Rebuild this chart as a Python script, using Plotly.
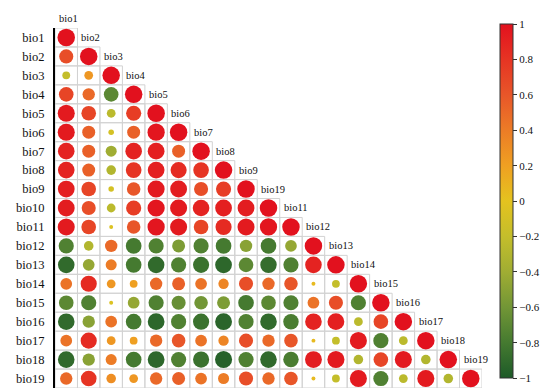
import numpy as np
import plotly.graph_objects as go

row_labels = [f"bio{i}" for i in range(1, 20)]
col_labels = ["bio1", "bio2", "bio3", "bio4", "bio5", "bio6", "bio7", "bio8", "bio9",
              "bio19", "bio11", "bio12", "bio13", "bio14", "bio15", "bio16", "bio17",
              "bio18", "bio19"]

# lower-triangle correlations (row i, columns 1..i-1); diagonal = 1
r2 = [0.65]
r3 = [-0.2, 0.25]
r4 = [0.7, 0.5, -0.7]
r5 = [0.95, 0.7, -0.25, 0.75]
r6 = [0.95, 0.55, -0.1, 0.55, 0.97]
r7 = [0.9, 0.55, -0.4, 0.9, 0.92, 0.55]
r8 = [0.9, 0.55, -0.3, 0.8, 0.92, 0.85, 0.8]
r9 = [0.92, 0.7, -0.1, 0.6, 0.95, 0.93, 0.65, 0.75]
r10 = [0.93, 0.65, -0.25, 0.75, 0.97, 0.95, 0.9, 0.92, 0.93]
r11 = [0.95, 0.7, -0.05, 0.6, 0.97, 0.95, 0.7, 0.85, 0.95, 0.97]
r12 = [-0.75, -0.3, 0.5, -0.8, -0.75, -0.55, -0.75, -0.8, -0.5, -0.8, -0.45]
r13 = [-0.9, -0.45, 0.4, -0.8, -0.9, -0.75, -0.85, -0.92, -0.7, -0.88, -0.75, 0.9]
r14 = [0.45, 0.85, 0.25, 0.2, 0.5, 0.55, 0.45, 0.35, 0.65, 0.5, 0.6, 0.05, -0.2]
r15 = [-0.7, -0.75, -0.05, -0.45, -0.75, -0.65, -0.6, -0.55, -0.8, -0.7, -0.75, 0.45, 0.65, -0.75]
r16 = [-0.9, -0.5, 0.45, -0.8, -0.92, -0.75, -0.85, -0.93, -0.75, -0.9, -0.78, 0.9, 0.92, -0.25, 0.7]
r17 = [0.45, 0.85, 0.25, 0.2, 0.5, 0.6, 0.45, 0.35, 0.65, 0.5, 0.6, 0.05, -0.2, 0.95, -0.75, -0.25]
r18 = [-0.9, -0.5, 0.4, -0.8, -0.92, -0.75, -0.85, -0.95, -0.75, -0.9, -0.78, 0.93, 0.95, -0.3, 0.7, 0.95, -0.3]
r19 = [0.5, 0.8, 0.3, 0.25, 0.5, 0.55, 0.45, 0.4, 0.65, 0.5, 0.6, 0.05, -0.2, 0.95, -0.75, -0.25, 0.95, -0.3]

lower_rows = [[], r2, r3, r4, r5, r6, r7, r8, r9, r10, r11, r12, r13, r14, r15,
              r16, r17, r18, r19]

xs, ys, vals = [], [], []
for i, row in enumerate(lower_rows, start=1):
    full = list(row) + [1.0]
    for j, v in enumerate(full, start=1):
        xs.append(j)
        ys.append(i)
        vals.append(v)
vals = np.array(vals)

colorscale = [
    [0.0, "#1D5A28"],
    [0.1, "#457A30"],
    [0.2, "#729636"],
    [0.3, "#A0AD33"],
    [0.4, "#C4BE2B"],
    [0.5, "#E4C31F"],
    [0.6, "#EFA022"],
    [0.7, "#EC7C26"],
    [0.8, "#E85629"],
    [0.9, "#E63423"],
    [1.0, "#E2111E"],
]

serif = "Liberation Serif, Times New Roman, serif"
max_d = 17.5

fig = go.Figure()
fig.add_trace(go.Scatter(
    x=xs, y=ys, mode="markers",
    marker=dict(
        size=max_d * np.sqrt(np.abs(vals)),
        color=vals, cmin=-1, cmax=1, colorscale=colorscale, opacity=1,
        line=dict(width=0),
        colorbar=dict(
            x=1.018, xanchor="left", y=0.519, yanchor="middle",
            thickness=13, len=374, lenmode="pixels", ypad=10,
            outlinecolor="#333333", outlinewidth=1,
            tickmode="linear", tick0=-1, dtick=0.2,
            ticks="outside", ticklen=4, tickcolor="#333333",
            tickfont=dict(family=serif, size=11, color="#111111"),
        ),
    ),
    hoverinfo="skip", showlegend=False, cliponaxis=False,
))

n = len(row_labels)
shapes = []
for i in range(1, n + 1):
    for j in range(1, i + 1):
        shapes.append(dict(type="rect", xref="x", yref="y",
                           x0=j - 0.5, x1=j + 0.5, y0=i - 0.5, y1=i + 0.5,
                           line=dict(color="#D2D2D2", width=1), layer="below"))

cell_h = 360 / n
annotations = []
for j, lab in enumerate(col_labels, start=1):
    annotations.append(dict(x=j - 0.5, y=j - 0.5, xref="x", yref="y", text=lab,
                            showarrow=False, xanchor="left", yanchor="middle",
                            xshift=2, yshift=cell_h / 2,
                            font=dict(family=serif, size=10.5, color="#111111")))

fig.update_layout(
    width=550, height=388,
    margin=dict(l=44, r=59, t=20, b=8),
    paper_bgcolor="white", plot_bgcolor="white",
    shapes=shapes, annotations=annotations,
    xaxis=dict(range=[0.5, n + 0.5], showgrid=False, zeroline=False,
               showticklabels=False, showline=True, linecolor="black", linewidth=2),
    yaxis=dict(range=[n + 0.5, 0.5], showgrid=False, zeroline=False,
               tickmode="array", tickvals=list(range(1, n + 1)), ticktext=row_labels,
               tickfont=dict(family=serif, size=12.5, color="#111111"),
               showline=True, linecolor="black", linewidth=2,
               ticks="outside", ticklen=6, tickcolor="rgba(0,0,0,0)"),
)

fig.write_html("out.html")
